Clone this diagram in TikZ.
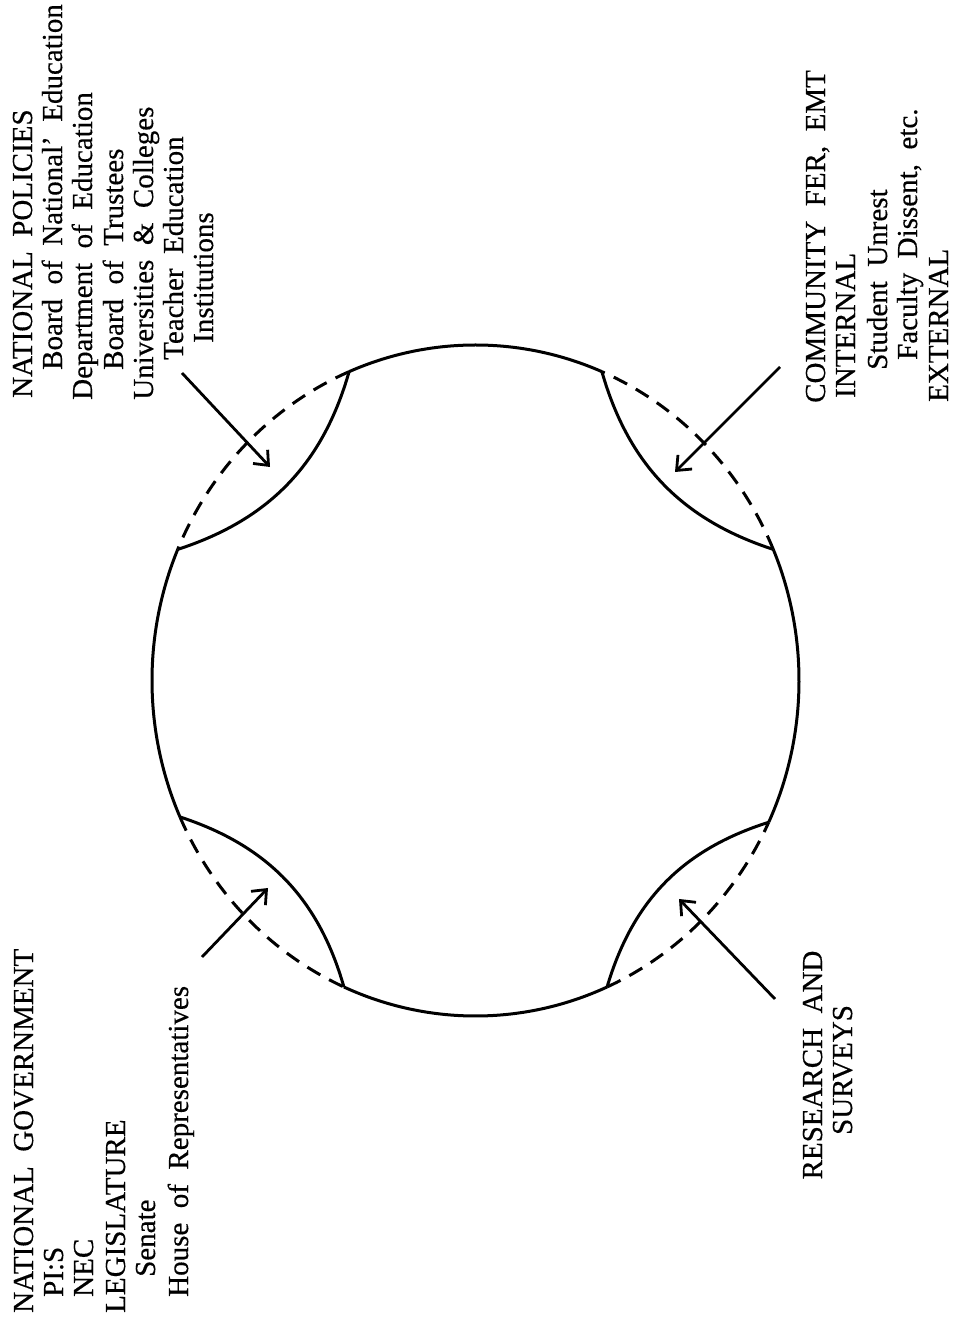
\documentclass[tikz,border=0pt]{standalone}
\usepackage{fontspec}
\setmainfont{Liberation Serif}[WordSpace=2,FakeBold=0.4]
\usetikzlibrary{arrows.meta,calc}
\begin{document}
\begin{tikzpicture}[x=1pt,y=1pt,
  lbl/.style={rotate=90,inner sep=0pt,anchor=base west,font=\fontsize{29}{31}\selectfont},
  lblc/.style={lbl,anchor=base},
  rim/.style={line width=3pt},
  rimdash/.style={line width=3pt,dash pattern=on 15pt off 10pt},
  lens/.style={line width=3pt,bend left=28},
  inarrow/.style={line width=2.8pt,-{Straight Barb[length=12pt,width=20pt]}}]
\useasboundingbox (0,0) rectangle (962,1318);
\coordinate (O) at (475.5,637.5);
\def\rx{323.5pt}\def\ry{335.5pt}
% corners of the four lenses
\coordinate (tr1) at ($(O)+(23:323.5 and 335.5)$);
\coordinate (tr2) at ($(O)+(67:323.5 and 335.5)$);
\coordinate (tl1) at ($(O)+(113:323.5 and 335.5)$);
\coordinate (tl2) at ($(O)+(157:323.5 and 335.5)$);
\coordinate (bl1) at ($(O)+(204:323.5 and 335.5)$);
\coordinate (bl2) at ($(O)+(246:323.5 and 335.5)$);
\coordinate (br1) at ($(O)+(294:323.5 and 335.5)$);
\coordinate (br2) at ($(O)+(335:323.5 and 335.5)$);
% solid parts of the rim
\draw[rim] (tr2) arc[start angle=67,end angle=113,x radius=\rx,y radius=\ry];
\draw[rim] (tl2) arc[start angle=157,end angle=204,x radius=\rx,y radius=\ry];
\draw[rim] (bl2) arc[start angle=246,end angle=294,x radius=\rx,y radius=\ry];
\draw[rim] (br2) arc[start angle=335,end angle=383,x radius=\rx,y radius=\ry];
% dashed parts of the rim
\draw[rimdash] (tr1) arc[start angle=23,end angle=67,x radius=\rx,y radius=\ry];
\draw[rimdash] (tl1) arc[start angle=113,end angle=157,x radius=\rx,y radius=\ry];
\draw[rimdash] (bl1) arc[start angle=204,end angle=246,x radius=\rx,y radius=\ry];
\draw[rimdash] (br1) arc[start angle=294,end angle=335,x radius=\rx,y radius=\ry];
% inner solid arcs
\draw[lens] (tr1) to (tr2);
\draw[lens] (tl1) to (tl2);
\draw[lens] (bl1) to (bl2);
\draw[lens] (br1) to (br2);
% texts
\node[lbl] (ng1) at (33,5) {NATIONAL GOVERNMENT};
\node[lbl] (ng2) at (63,21) {PI:S};
\node[lbl] (ng3) at (93,21) {NEC};
\node[lbl] (ng4) at (125,5) {LEGISLATURE};
\node[lbl] (ng5) at (155,41) {Senate};
\node[lbl] (ng6) at (188,21) {House of Representatives};
\node[lbl] (np1) at (32,920) {NATIONAL POLICIES};
\node[lbl] (np2) at (62,948) {Board of National' Education};
\node[lbl] (np3) at (92,918) {Department of Education};
\node[lbl] (np4) at (123,948) {Board of Trustees};
\node[lbl] (np5) at (153,918) {Universities \& Colleges};
\node[lbl] (np6) at (183,958) {Teacher Education};
\node[lbl] (np7) at (213,975) {Institutions};
\node[lbl] (cf1) at (825,915) {COMMUNITY FER, EMT};
\node[lbl] (cf2) at (855,920) {INTERNAL};
\node[lbl] (cf3) at (887,948) {Student Unrest};
\node[lbl] (cf4) at (917,958) {Faculty Dissent, etc.};
\node[lbl] (cf5) at (948,916) {EXTERNAL};
\node[lblc] (rs1) at (822,253) {RESEARCH AND};
\node[lblc] (rs2) at (852,248) {SURVEYS};
% arrows
\coordinate (atl0) at (182,945); \coordinate (atl1) at (270,851);
\coordinate (atr0) at (780,951); \coordinate (atr1) at (675,846);
\coordinate (abl0) at (202,361); \coordinate (abl1) at (268,430);
\coordinate (abr0) at (775,319); \coordinate (abr1) at (679,419);
\draw[inarrow] (atl0) -- (atl1);
\draw[inarrow] (atr0) -- (atr1);
\draw[inarrow] (abl0) -- (abl1);
\draw[inarrow] (abr0) -- (abr1);
\end{tikzpicture}
\end{document}
